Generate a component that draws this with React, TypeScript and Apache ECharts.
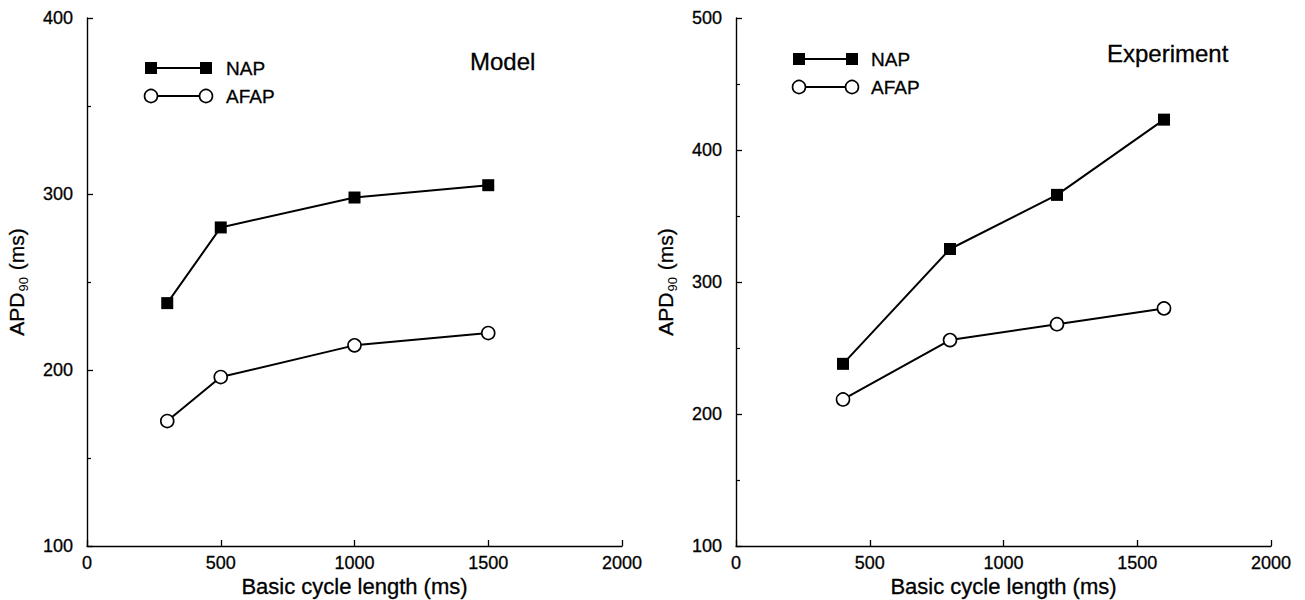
import React, { useEffect, useRef } from "react";
import * as echarts from "echarts";

const modelCycle = [300, 500, 1000, 1500];
const modelNAP = [238, 281, 298, 305];
const modelAFAP = [171, 196, 214, 221];

const expCycle = [400, 800, 1200, 1600];
const expNAP = [238, 325, 366, 423];
const expAFAP = [211, 256, 268, 280];

const xTicks = { min: 0, max: 2000, interval: 500 };
const modelY = { min: 100, max: 400, interval: 100 };
const expY = { min: 100, max: 500, interval: 100 };

const FONT = "'Liberation Sans', Arial, Helvetica, sans-serif";
const INK = "#000";

const zip = (xs: number[], ys: number[]) => xs.map((x, i) => [x, ys[i]]);
const plain = (v: number) => String(v);

function xAxis(gridIndex: number) {
  return {
    type: "value",
    gridIndex,
    min: xTicks.min,
    max: xTicks.max,
    interval: xTicks.interval,
    name: "Basic cycle length (ms)",
    nameLocation: "middle",
    nameGap: 29,
    nameMoveOverlap: false,
    nameTextStyle: { fontFamily: FONT, fontSize: 22, color: INK, textBorderColor: INK, textBorderWidth: 0.3 },
    axisLine: { show: true, onZero: false, lineStyle: { color: INK, width: 1.4 } },
    axisTick: { show: true, inside: true, length: 6, lineStyle: { color: INK, width: 1.3 } },
    axisLabel: {
      fontFamily: FONT,
      fontSize: 18,
      color: INK,
      margin: 8,
      formatter: plain,
      textBorderColor: INK,
      textBorderWidth: 0.3,
    },
    splitLine: { show: false },
  };
}

function yAxis(gridIndex: number, r: { min: number; max: number; interval: number }) {
  return {
    type: "value",
    gridIndex,
    min: r.min,
    max: r.max,
    interval: r.interval,
    name: "{a|APD}{s|90}{a| (ms)}",
    nameLocation: "middle",
    nameGap: 57,
    nameMoveOverlap: false,
    nameTextStyle: {
      fontFamily: FONT,
      color: INK,
      rich: {
        a: { fontFamily: FONT, fontSize: 21, color: INK, textBorderColor: INK, textBorderWidth: 0.3 },
        s: { fontFamily: FONT, fontSize: 13, color: INK, padding: [14, 1, 0, 1] },
      },
    },
    axisLine: { show: true, onZero: false, lineStyle: { color: INK, width: 1.4 } },
    axisTick: { show: true, inside: true, length: 6, lineStyle: { color: INK, width: 1.3 } },
    minorTick: { show: true, splitNumber: 2, length: 4, lineStyle: { color: INK, width: 1.2 } },
    axisLabel: {
      fontFamily: FONT,
      fontSize: 18,
      color: INK,
      margin: 14,
      formatter: plain,
      textBorderColor: INK,
      textBorderWidth: 0.3,
    },
    splitLine: { show: false },
    minorSplitLine: { show: false },
  };
}

function napSeries(xi: number, data: number[][]) {
  return {
    type: "line",
    xAxisIndex: xi,
    yAxisIndex: xi,
    data,
    symbol: "rect",
    symbolSize: 12,
    lineStyle: { color: INK, width: 2 },
    itemStyle: { color: INK, borderWidth: 0 },
    z: 3,
  };
}

function afapSeries(xi: number, data: number[][]) {
  return {
    type: "line",
    xAxisIndex: xi,
    yAxisIndex: xi,
    data,
    symbol: "circle",
    symbolSize: 13,
    showAllSymbol: true,
    lineStyle: { color: INK, width: 2 },
    itemStyle: { color: "#fff", borderColor: INK, borderWidth: 1.6 },
    z: 3,
  };
}

const textStyle = (text: string, size: number) => ({
  text,
  font: `${size}px ${FONT}`,
  fill: INK,
  stroke: INK,
  lineWidth: 0.3,
  verticalAlign: "middle",
  align: "left",
});

function legendGroup(x1: number, x2: number, yNap: number, yAfap: number, tx: number) {
  return [
    { type: "line", shape: { x1, y1: yNap, x2, y2: yNap }, style: { stroke: INK, lineWidth: 2 } },
    { type: "rect", shape: { x: x1 - 6, y: yNap - 6, width: 12, height: 12 }, style: { fill: INK } },
    { type: "rect", shape: { x: x2 - 6, y: yNap - 6, width: 12, height: 12 }, style: { fill: INK } },
    { type: "text", x: tx, y: yNap, style: textStyle("NAP", 19) },
    { type: "line", shape: { x1, y1: yAfap, x2, y2: yAfap }, style: { stroke: INK, lineWidth: 2 } },
    { type: "circle", shape: { cx: x1, cy: yAfap, r: 6.5 }, style: { fill: "#fff", stroke: INK, lineWidth: 1.6 } },
    { type: "circle", shape: { cx: x2, cy: yAfap, r: 6.5 }, style: { fill: "#fff", stroke: INK, lineWidth: 1.6 } },
    { type: "text", x: tx, y: yAfap, style: textStyle("AFAP", 19) },
  ];
}

export default function App() {
  const ref = useRef<HTMLDivElement>(null);

  useEffect(() => {
    if (!ref.current) return;
    const chart = echarts.init(ref.current, null, { renderer: "svg" });
    chart.setOption({
      animation: false,
      backgroundColor: "#fff",
      grid: [
        { left: 87, top: 18, width: 535, height: 528, containLabel: false, outerBoundsMode: "none" },
        { left: 736, top: 18, width: 535, height: 528, containLabel: false, outerBoundsMode: "none" },
      ],
      xAxis: [xAxis(0), xAxis(1)],
      yAxis: [yAxis(0, modelY), yAxis(1, expY)],
      series: [
        napSeries(0, zip(modelCycle, modelNAP)),
        afapSeries(0, zip(modelCycle, modelAFAP)),
        napSeries(1, zip(expCycle, expNAP)),
        afapSeries(1, zip(expCycle, expAFAP)),
      ],
      graphic: [
        ...legendGroup(151, 206, 68, 96, 226),
        ...legendGroup(799, 852, 59, 87, 871),
        { type: "text", x: 470, y: 61, style: textStyle("Model", 24) },
        { type: "text", x: 1107, y: 53, style: textStyle("Experiment", 24) },
      ],
    });
    return () => chart.dispose();
  }, []);

  return (
    <div
      ref={ref}
      style={{ position: "fixed", left: 0, top: 0, width: 1305, height: 600, background: "#fff" }}
    />
  );
}
